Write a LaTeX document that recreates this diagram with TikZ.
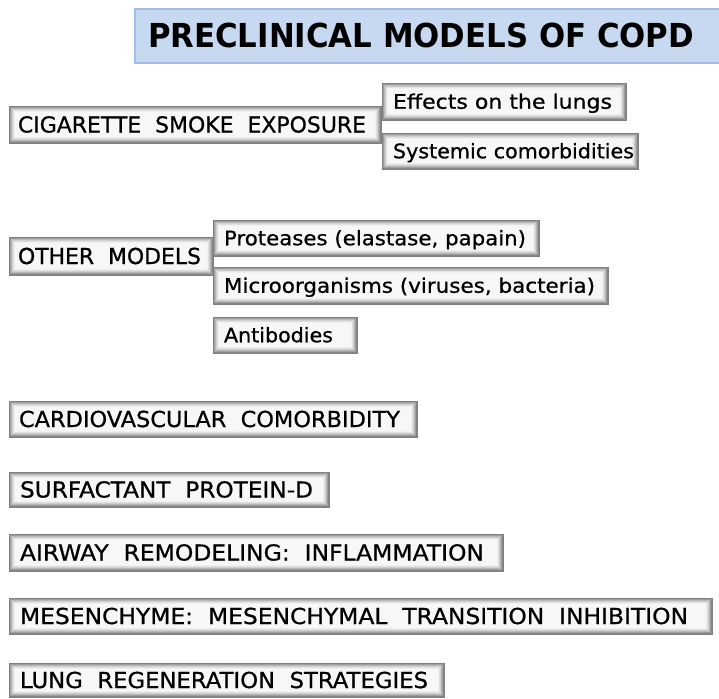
\documentclass[tikz,border=0pt]{standalone}
\usepackage{fontspec}
\setmainfont{DejaVu Sans}[FakeBold=0.7]
\newfontfamily\titlefont{DejaVu Sans Bold}
\usepackage{graphicx}
\definecolor{titlefill}{RGB}{198,217,241}
\definecolor{titleline}{RGB}{163,190,228}
\newcommand\gtxt[4]{\makebox[#1pt][l]{\hspace*{#2pt}\resizebox{#3pt}{\height}{#4}}}
\tikzset{
  gbox/.style={anchor=north west, draw=black!50, line width=0.9pt,
    inner sep=0pt, outer sep=0pt, font=\fontsize{22}{24}\selectfont,
    text height=16pt, text depth=0pt,
    path picture={
      \foreach \d/\c in {0/48,1/38,2/28,3/19,4/12,5/6,6/3}{
        \fill[black!\c] ([xshift=\d pt,yshift=\d pt]path picture bounding box.south west)
          rectangle ([xshift=-\d pt,yshift=-\d pt]path picture bounding box.north east);
      }
    }},
  subbox/.style={gbox, font=\fontsize{20}{22}\selectfont, text height=14.5pt},
  titlebox/.style={anchor=north west, fill=titlefill, draw=titleline, line width=1.2pt,
    inner sep=0pt, outer sep=0pt, font=\titlefont\fontsize{33}{36}\selectfont,
    text height=24pt, text depth=0pt},
}
\begin{document}
\begin{tikzpicture}[x=1pt,y=-1pt]
\useasboundingbox[fill=white] (0,0) rectangle (719,698);
% title
\node[titlebox, minimum width=600pt, minimum height=54pt] (title) at (135,9)
  {\gtxt{600}{13}{546}{PRECLINICAL MODELS OF COPD}};
% cigarette smoke
\node[gbox, minimum width=372pt, minimum height=37pt] (cig) at (9,106)
  {\gtxt{372}{9}{348}{CIGARETTE\ \ SMOKE\ \ EXPOSURE}};
\node[subbox, minimum width=244pt, minimum height=37pt] (eff) at (382,83)
  {\gtxt{244}{11}{219}{Effects on the lungs}};
\node[subbox, minimum width=256pt, minimum height=36pt] (sys) at (382,133)
  {\gtxt{256}{11}{241}{Systemic comorbidities}};
% other models
\node[gbox, minimum width=204pt, minimum height=38pt] (oth) at (9,237)
  {\gtxt{204}{9}{183}{OTHER\ \ MODELS}};
\node[subbox, minimum width=326pt, minimum height=36pt] (pro) at (213,220)
  {\gtxt{326}{11}{302}{Proteases (elastase, papain)}};
\node[subbox, minimum width=395pt, minimum height=37pt] (mic) at (213,267)
  {\gtxt{395}{11}{371}{Microorganisms (viruses, bacteria)}};
\node[subbox, minimum width=144pt, minimum height=36pt] (ant) at (213,317)
  {\gtxt{144}{11}{109}{Antibodies}};
% single rows
\node[gbox, minimum width=408pt, minimum height=36pt] (car) at (9,401)
  {\gtxt{408}{10}{381}{CARDIOVASCULAR\ \ COMORBIDITY}};
\node[gbox, minimum width=320pt, minimum height=35pt] (sur) at (9,472)
  {\gtxt{320}{11}{293}{SURFACTANT\ \ PROTEIN-D}};
\node[gbox, minimum width=494pt, minimum height=37pt] (air) at (9,534)
  {\gtxt{494}{11}{464}{AIRWAY\ \ REMODELING:\ \ INFLAMMATION}};
\node[gbox, minimum width=703pt, minimum height=36pt] (mes) at (9,598)
  {\gtxt{703}{11}{668}{MESENCHYME:\ \ MESENCHYMAL\ \ TRANSITION\ \ INHIBITION}};
\node[gbox, minimum width=435pt, minimum height=34pt] (lun) at (9,663)
  {\gtxt{435}{11}{408}{LUNG\ \ REGENERATION\ \ STRATEGIES}};
\end{tikzpicture}
\end{document}
